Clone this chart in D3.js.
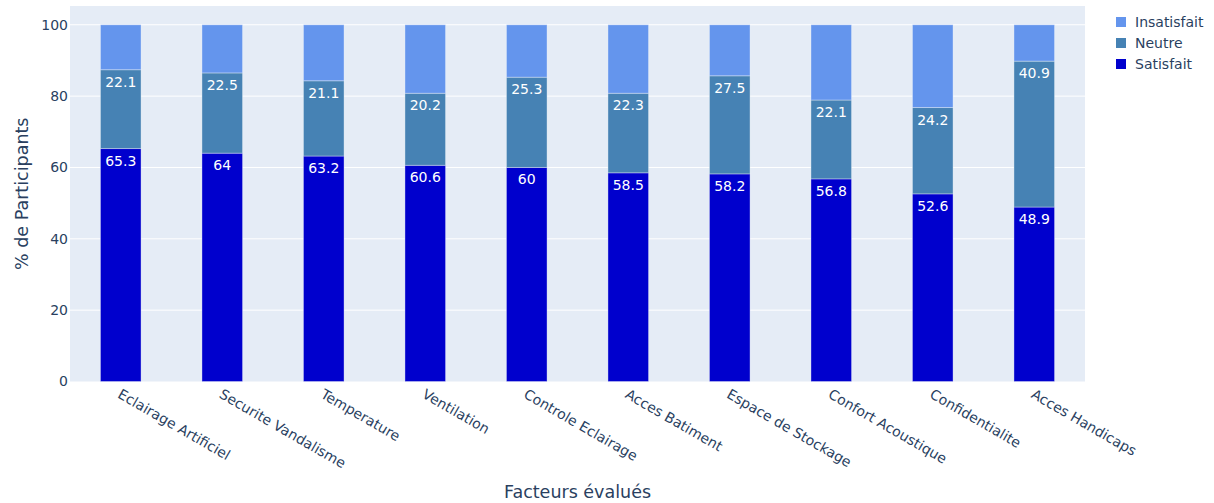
<!DOCTYPE html>
<html>
<head>
<meta charset="utf-8">
<script src="https://cdn.jsdelivr.net/npm/d3@7"></script>
<style>
  html, body { margin: 0; padding: 0; background: #fff; }
  svg { display: block; font-family: "DejaVu Sans", verdana, arial, sans-serif; }
</style>
</head>
<body>
<svg id="chart" width="1214" height="503"></svg>
<script>
const categories = ["Eclairage Artificiel", "Securite Vandalisme", "Temperature", "Ventilation", "Controle Eclairage", "Acces Batiment", "Espace de Stockage", "Confort Acoustique", "Confidentialite", "Acces Handicaps"];
const satisfait = [65.3, 64, 63.2, 60.6, 60, 58.5, 58.2, 56.8, 52.6, 48.9];
const neutre = [22.1, 22.5, 21.1, 20.2, 25.3, 22.3, 27.5, 22.1, 24.2, 40.9];
const insatisfait = [12.6, 13.5, 15.7, 19.2, 14.7, 19.2, 14.3, 21.1, 23.2, 10.2];
const seriesNames = ["Satisfait", "Neutre", "Insatisfait"];
const seriesColors = ["#0000CD", "#4682B4", "#6495ED"];
const yTicks = [0, 20, 40, 60, 80, 100];

const FONT = "\"DejaVu Sans\", verdana, arial, sans-serif";
const svg = d3.select("#chart");
const margin = {left: 70, right: 1085, top: 6, bottom: 381.5};

const x = d3.scaleBand().domain(categories).range([margin.left, margin.right]).paddingInner(0.6).paddingOuter(0.3);
const y = d3.scaleLinear().domain([0, 105.26]).range([margin.bottom, margin.top]);

// background
svg.append("rect").attr("x", margin.left).attr("y", margin.top)
  .attr("width", margin.right - margin.left).attr("height", margin.bottom - margin.top)
  .attr("fill", "#E5ECF6");

// grid
svg.append("g").selectAll("line").data(yTicks.filter(d => d > 0)).join("line")
  .attr("x1", margin.left).attr("x2", margin.right)
  .attr("y1", d => y(d)).attr("y2", d => y(d))
  .attr("stroke", "#fff").attr("stroke-width", 1);

// stack
const rows = categories.map((c, i) => ({cat: c, Satisfait: satisfait[i], Neutre: neutre[i], Insatisfait: insatisfait[i]}));
const stack = d3.stack().keys(seriesNames)(rows);

const gBars = svg.append("g");
stack.forEach((layer, li) => {
  const g = gBars.append("g");
  g.selectAll("rect").data(layer).join("rect")
    .attr("x", d => x(d.data.cat))
    .attr("width", x.bandwidth())
    .attr("y", d => y(d[1]))
    .attr("height", d => y(d[0]) - y(d[1]))
    .attr("fill", seriesColors[li])
    .attr("stroke", "rgba(255,255,255,0.35)")
    .attr("stroke-width", 1);
  if (li < 2) {
    g.selectAll("text").data(layer).join("text")
      .attr("x", d => x(d.data.cat) + x.bandwidth() / 2)
      .attr("y", d => y(d[1]) + 17)
      .attr("text-anchor", "middle")
      .attr("fill", "#fff")
      .attr("font-size", "14px")
      .text(d => d.data[seriesNames[li]]);
  }
});

// y axis
const yAxis = d3.axisLeft(y).tickValues(yTicks).tickSize(0).tickPadding(0);
const gy = svg.append("g").attr("transform", `translate(${margin.left - 2},0)`).call(yAxis);
gy.select(".domain").remove();
gy.selectAll("text").attr("fill", "#2a3f5f").attr("font-size", "14px").attr("font-family", FONT);

// x axis
const xAxis = d3.axisBottom(x).tickSize(0).tickPadding(0);
const gx = svg.append("g").attr("transform", `translate(0,${margin.bottom})`).call(xAxis);
gx.select(".domain").remove();
gx.selectAll("text")
  .attr("fill", "#2a3f5f").attr("font-size", "14px")
  .attr("font-family", FONT)
  .attr("text-anchor", "start")
  .attr("y", 0)
  .attr("transform", "translate(1,7) rotate(30)")
  .attr("dy", "0.71em");

// axis titles
svg.append("text").attr("x", (margin.left + margin.right) / 2).attr("y", 498)
  .attr("text-anchor", "middle").attr("fill", "#2a3f5f").attr("font-size", "17.5px")
  .text("Facteurs évalués");
svg.append("text").attr("transform", `translate(28,${(margin.top + margin.bottom) / 2}) rotate(-90)`)
  .attr("text-anchor", "middle").attr("fill", "#2a3f5f").attr("font-size", "17.5px")
  .text("% de Participants");

// legend
const legendOrder = [2, 1, 0];
const lg = svg.append("g").attr("transform", "translate(1116,22)");
legendOrder.forEach((si, k) => {
  const row = lg.append("g").attr("transform", `translate(0,${k * 21})`);
  row.append("rect").attr("x", 0).attr("y", -5).attr("width", 10).attr("height", 10)
    .attr("fill", seriesColors[si]);
  row.append("text").attr("x", 19).attr("y", 0).attr("dy", "0.35em")
    .attr("fill", "#2a3f5f").attr("font-size", "14px").text(seriesNames[si]);
});
</script>
</body>
</html>
